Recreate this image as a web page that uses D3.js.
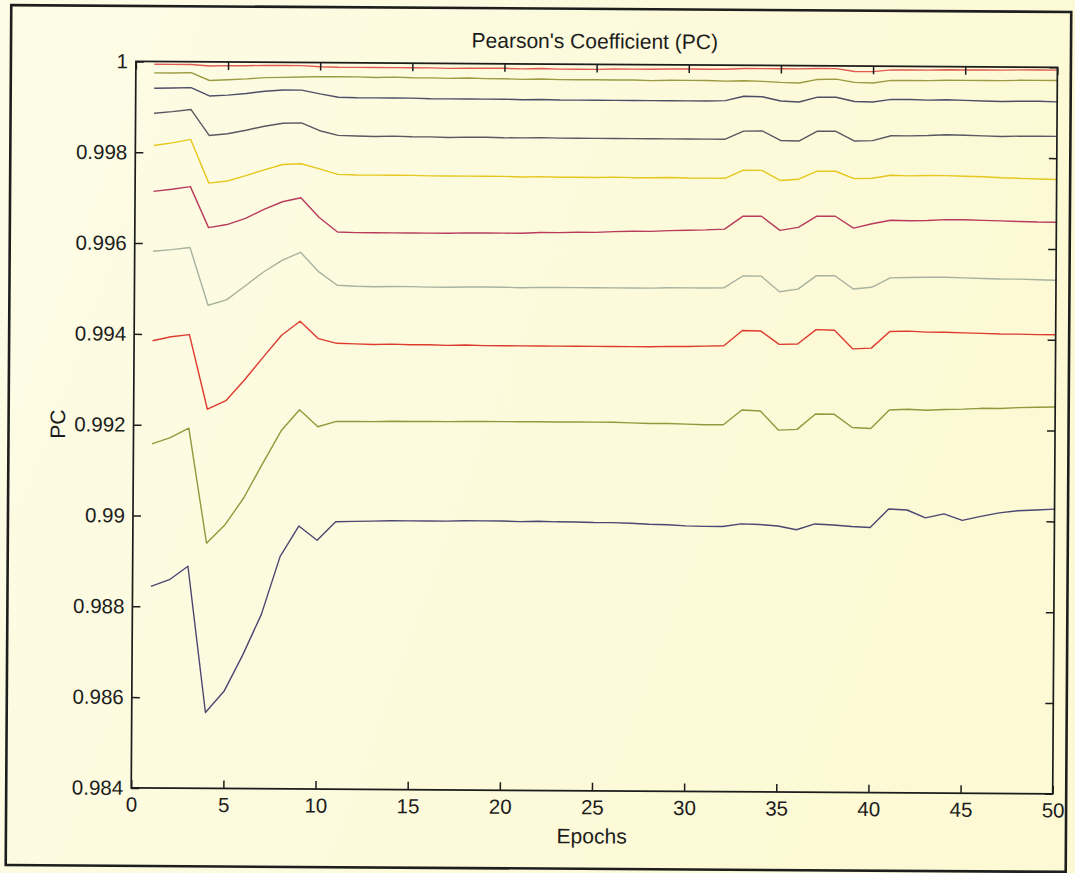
<!DOCTYPE html>
<html>
<head>
<meta charset="utf-8">
<script src="https://cdn.jsdelivr.net/npm/d3@7"></script>
<style>
  html, body { margin: 0; padding: 0; background: #fdfbe0; }
  svg { display: block; }
</style>
</head>
<body>
<svg id="chart" width="1075" height="873"></svg>
<script>
// Training epochs on the x axis
const epochs = d3.range(1, 51);

// Pearson's coefficient per epoch, one array per run (top curve first)
const pcRun1 = [0.99994,0.99994,0.99994,0.99991,0.99992,0.99992,0.99993,0.99993,0.99993,0.99991,
  0.99990,0.99990,0.99990,0.99990,0.99990,0.99990,0.99989,0.99990,0.99990,0.99990,
  0.99989,0.99990,0.99989,0.99989,0.99989,0.99990,0.99990,0.99990,0.99991,0.99991,
  0.99991,0.99991,0.99993,0.99993,0.99993,0.99993,0.99994,0.99994,0.99988,0.99988,
  0.99992,0.99992,0.99992,0.99993,0.99993,0.99993,0.99993,0.99994,0.99994,0.99994];
const pcRun2 = [0.99975,0.99975,0.99976,0.99959,0.99961,0.99963,0.99966,0.99967,0.99968,0.99969,
  0.99969,0.99969,0.99968,0.99969,0.99968,0.99968,0.99967,0.99968,0.99967,0.99967,
  0.99966,0.99967,0.99966,0.99966,0.99966,0.99966,0.99966,0.99965,0.99966,0.99966,
  0.99966,0.99965,0.99966,0.99965,0.99963,0.99962,0.99970,0.99971,0.99964,0.99963,
  0.99969,0.99969,0.99969,0.99970,0.99970,0.99970,0.99970,0.99971,0.99971,0.99971];
const pcRun3 = [0.99941,0.99942,0.99943,0.99925,0.99927,0.99931,0.99936,0.99939,0.99939,0.99931,
  0.99924,0.99923,0.99923,0.99923,0.99923,0.99922,0.99922,0.99922,0.99922,0.99922,
  0.99921,0.99922,0.99921,0.99921,0.99921,0.99921,0.99921,0.99921,0.99921,0.99921,
  0.99921,0.99922,0.99932,0.99931,0.99922,0.99920,0.99931,0.99931,0.99922,0.99921,
  0.99927,0.99927,0.99926,0.99927,0.99926,0.99925,0.99924,0.99925,0.99925,0.99924];
const pcRun4 = [0.99886,0.99890,0.99895,0.99838,0.99842,0.99850,0.99859,0.99866,0.99867,0.99850,
  0.99840,0.99839,0.99838,0.99839,0.99838,0.99838,0.99837,0.99838,0.99838,0.99837,
  0.99837,0.99838,0.99837,0.99837,0.99837,0.99837,0.99837,0.99837,0.99837,0.99837,
  0.99837,0.99837,0.99855,0.99856,0.99835,0.99834,0.99856,0.99856,0.99835,0.99836,
  0.99847,0.99847,0.99848,0.99850,0.99849,0.99848,0.99847,0.99848,0.99848,0.99848];
const pcRun5 = [0.99815,0.99821,0.99829,0.99733,0.99738,0.99750,0.99763,0.99775,0.99777,0.99766,
  0.99754,0.99753,0.99753,0.99753,0.99753,0.99752,0.99752,0.99752,0.99752,0.99752,
  0.99751,0.99752,0.99751,0.99751,0.99751,0.99752,0.99751,0.99751,0.99752,0.99751,
  0.99751,0.99751,0.99769,0.99769,0.99747,0.99750,0.99768,0.99768,0.99752,0.99753,
  0.99760,0.99759,0.99760,0.99760,0.99759,0.99758,0.99756,0.99755,0.99754,0.99753];
const pcRun6 = [0.99714,0.99719,0.99725,0.99635,0.99642,0.99656,0.99676,0.99693,0.99702,0.99659,
  0.99627,0.99626,0.99626,0.99626,0.99626,0.99626,0.99626,0.99627,0.99627,0.99627,
  0.99627,0.99629,0.99629,0.99630,0.99630,0.99632,0.99633,0.99633,0.99635,0.99636,
  0.99637,0.99639,0.99668,0.99668,0.99637,0.99644,0.99669,0.99669,0.99643,0.99653,
  0.99661,0.99660,0.99661,0.99663,0.99663,0.99662,0.99661,0.99660,0.99659,0.99659];
const pcRun7 = [0.99582,0.99586,0.99591,0.99464,0.99476,0.99507,0.99538,0.99564,0.99582,0.99539,
  0.99510,0.99508,0.99507,0.99508,0.99508,0.99507,0.99507,0.99508,0.99508,0.99508,
  0.99507,0.99508,0.99508,0.99508,0.99508,0.99508,0.99508,0.99508,0.99509,0.99509,
  0.99509,0.99510,0.99536,0.99536,0.99502,0.99508,0.99538,0.99538,0.99509,0.99513,
  0.99534,0.99535,0.99536,0.99536,0.99535,0.99534,0.99533,0.99533,0.99532,0.99531];
const pcRun8 = [0.99385,0.99394,0.99399,0.99235,0.99254,0.99300,0.99350,0.99399,0.99430,0.99392,
  0.99382,0.99381,0.99380,0.99381,0.99380,0.99380,0.99379,0.99380,0.99379,0.99379,
  0.99379,0.99379,0.99379,0.99379,0.99379,0.99379,0.99379,0.99379,0.99380,0.99380,
  0.99381,0.99382,0.99416,0.99415,0.99386,0.99387,0.99419,0.99418,0.99377,0.99379,
  0.99416,0.99417,0.99415,0.99415,0.99414,0.99413,0.99412,0.99412,0.99411,0.99411];
const pcRun9 = [0.99158,0.99172,0.99193,0.98940,0.98981,0.99040,0.99115,0.99188,0.99235,0.99198,
  0.99210,0.99210,0.99210,0.99211,0.99211,0.99211,0.99211,0.99212,0.99212,0.99212,
  0.99212,0.99212,0.99212,0.99212,0.99212,0.99212,0.99211,0.99210,0.99210,0.99209,
  0.99208,0.99208,0.99241,0.99239,0.99197,0.99199,0.99233,0.99233,0.99204,0.99202,
  0.99243,0.99245,0.99243,0.99245,0.99246,0.99248,0.99248,0.99250,0.99251,0.99252];
const pcRun10 = [0.98844,0.98859,0.98889,0.98567,0.98614,0.98694,0.98784,0.98912,0.98979,0.98948,
  0.98989,0.98990,0.98991,0.98992,0.98992,0.98992,0.98992,0.98993,0.98993,0.98993,
  0.98992,0.98993,0.98992,0.98992,0.98991,0.98991,0.98990,0.98988,0.98987,0.98985,
  0.98984,0.98984,0.98990,0.98989,0.98986,0.98978,0.98991,0.98989,0.98986,0.98984,
  0.99025,0.99023,0.99006,0.99015,0.99001,0.99010,0.99018,0.99023,0.99025,0.99027];

const runs = [pcRun1, pcRun2, pcRun3, pcRun4, pcRun5, pcRun6, pcRun7, pcRun8, pcRun9, pcRun10];
const runColors = ["#e05a52", "#9c9a42", "#4e4e68", "#5a5862", "#e6c71e",
                   "#b83a5c", "#a8b29e", "#dd3b2e", "#8f9a3c", "#4c4672"];

// Axis ticks
const xTicks = [0, 5, 10, 15, 20, 25, 30, 35, 40, 45, 50];
const yTicks = [0.984, 0.986, 0.988, 0.99, 0.992, 0.994, 0.996, 0.998, 1];
const yTickLabels = ["0.984", "0.986", "0.988", "0.99", "0.992", "0.994", "0.996", "0.998", "1"];

const FONT = "'Liberation Sans', Arial, Helvetica, sans-serif";
const INK = "#1c1c1c";

const svg = d3.select("#chart");

// paper-toned background, a touch warmer to the right
const defs = svg.append("defs");
const grad = defs.append("linearGradient").attr("id", "paper")
  .attr("x1", "0").attr("y1", "0").attr("x2", "1").attr("y2", "0.3");
grad.append("stop").attr("offset", "0").attr("stop-color", "#fdfce6");
grad.append("stop").attr("offset", "1").attr("stop-color", "#fcf9d4");
svg.append("rect").attr("width", 1075).attr("height", 873).attr("fill", "url(#paper)");

// the whole figure sits very slightly turned on the page
const fig = svg.append("g").attr("transform", "rotate(0.37 537 436)");

fig.append("rect")
  .attr("x", 8.5).attr("y", 8.5).attr("width", 1060).attr("height", 860)
  .attr("fill", "none").attr("stroke", "#1e1e1e").attr("stroke-width", 2.6);

const x = d3.scaleLinear().domain([0, 50]).range([133.5, 1055]);
const y = d3.scaleLinear().domain([0.984, 1]).range([790.5, 64]);
const [x0, x1] = x.range();
const [yb, yt] = y.range();

// curves
const line = d3.line()
  .x((d, i) => x(epochs[i]))
  .y(d => y(d));

fig.append("g").selectAll("path")
  .data(runs)
  .join("path")
  .attr("d", line)
  .attr("fill", "none")
  .attr("stroke", (d, i) => runColors[i])
  .attr("stroke-width", 1.4)
  .attr("stroke-linejoin", "round");

// axes with inward ticks on all four sides
function styleAxis(g) {
  g.select(".domain").remove();
  g.selectAll(".tick line").attr("stroke", INK).attr("stroke-width", 1.5);
  g.selectAll(".tick text")
    .attr("fill", INK)
    .attr("font-family", FONT)
    .attr("font-size", 20.5);
}

fig.append("g")
  .attr("transform", `translate(0,${yb})`)
  .call(d3.axisBottom(x).tickValues(xTicks).tickSizeInner(-8).tickSizeOuter(0).tickPadding(9))
  .call(styleAxis);

fig.append("g")
  .attr("transform", `translate(0,${yt})`)
  .call(d3.axisTop(x).tickValues(xTicks).tickSizeInner(-8).tickSizeOuter(0).tickFormat(""))
  .call(styleAxis);

fig.append("g")
  .attr("transform", `translate(${x0},0)`)
  .call(d3.axisLeft(y).tickValues(yTicks).tickSizeInner(-8).tickSizeOuter(0).tickPadding(8)
    .tickFormat((d, i) => yTickLabels[i]))
  .call(styleAxis);

fig.append("g")
  .attr("transform", `translate(${x1},0)`)
  .call(d3.axisRight(y).tickValues(yTicks).tickSizeInner(-8).tickSizeOuter(0).tickFormat(""))
  .call(styleAxis);

// box
fig.append("rect")
  .attr("x", x0).attr("y", yt).attr("width", x1 - x0).attr("height", yb - yt)
  .attr("fill", "none").attr("stroke", INK).attr("stroke-width", 1.7);

// title and axis labels
fig.append("text")
  .attr("x", (x0 + x1) / 2 - 2).attr("y", 48)
  .attr("text-anchor", "middle")
  .attr("font-family", FONT).attr("font-size", 21).attr("fill", INK)
  .text("Pearson's Coefficient (PC)");

fig.append("text")
  .attr("x", (x0 + x1) / 2).attr("y", 843)
  .attr("text-anchor", "middle")
  .attr("font-family", FONT).attr("font-size", 21).attr("fill", INK)
  .text("Epochs");

fig.append("text")
  .attr("transform", `translate(65,${(yt + yb) / 2}) rotate(-90)`)
  .attr("text-anchor", "middle")
  .attr("font-family", FONT).attr("font-size", 21).attr("fill", INK)
  .text("PC");
</script>
</body>
</html>
